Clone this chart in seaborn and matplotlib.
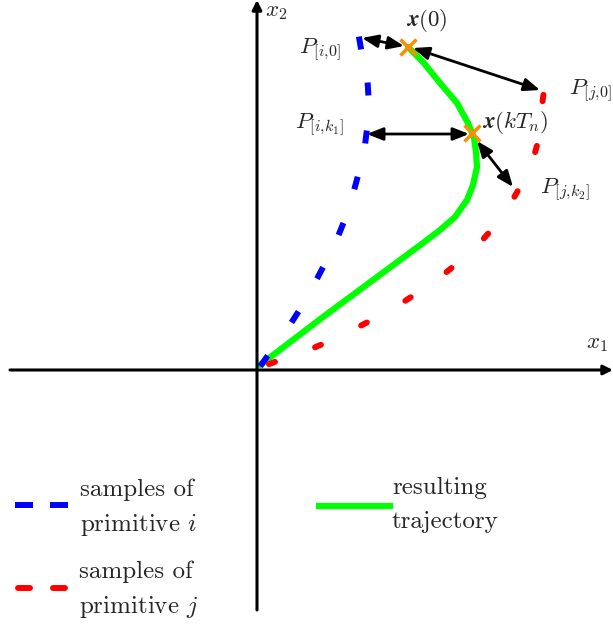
import numpy as np
import pandas as pd
import matplotlib
matplotlib.use("Agg")
import matplotlib.pyplot as plt
import seaborn as sns

# ---- data (diagram coordinates, origin at the axes crossing) ----
traj_x = [3, 66, 116, 166, 183, 198, 210, 216, 220, 219, 217, 211, 200, 183, 166, 151]
traj_y = [5, 53, 90, 127, 140, 153, 170, 185, 203, 218, 232, 247, 267, 287, 308, 323]

blue_x = [7, 38, 63, 84, 99, 109, 111, 103]
blue_y = [9, 53, 97, 141, 187, 233, 281, 327]

red_x = [15, 61, 107, 151, 192, 229, 259, 279, 286]
red_y = [7, 24, 46, 71, 100, 134, 176, 221, 272]

marks_x = [151, 215]
marks_y = [323, 237]

arrows = [((105, 332), (147, 324)),
          ((156, 322), (283, 280)),
          ((110, 236), (212, 236)),
          ((220, 229), (256, 183))]

labels = [(r"$\mathbfit{x}(0)$", 170, 350, "center"),
          (r"$P_{[i{,}0]}$", 84, 320, "right"),
          (r"$P_{[j{,}0]}$", 312, 279, "left"),
          (r"$P_{[i{,}k_1]}$", 87, 245, "right"),
          (r"$\mathbfit{x}(kT_n)$", 225, 247, "left"),
          (r"$P_{[j{,}k_2]}$", 283, 180, "left"),
          (r"$x_1$", 329, 26, "left"),
          (r"$x_2$", 8, 358, "left")]

sns.set_theme(style="white")
plt.rcParams["mathtext.fontset"] = "cm"
plt.rcParams["font.family"] = ["cmr10", "DejaVu Serif"]
plt.rcParams["axes.formatter.use_mathtext"] = True

fig = plt.figure(figsize=(6.13, 6.25), dpi=100)
ax = fig.add_axes([0, 0, 1, 1])
ax.set_xlim(-257, 356)
ax.set_ylim(-255, 370)
ax.axis("off")

BLUE = "#0000ff"
RED = "#ff0000"
GREEN = "#00ff00"
ORANGE = "#ff8c00"

# axes
ax.annotate("", xy=(356, 0), xytext=(-247, 0),
            arrowprops=dict(arrowstyle="-|>", color="black", lw=2.2,
                            mutation_scale=14, shrinkA=0, shrinkB=0))
ax.annotate("", xy=(0, 370), xytext=(0, -240),
            arrowprops=dict(arrowstyle="-|>", color="black", lw=2.2,
                            mutation_scale=14, shrinkA=0, shrinkB=0))

# trajectory
df = pd.DataFrame({"x": traj_x, "y": traj_y})
sns.lineplot(data=df, x="x", y="y", sort=False, estimator=None, color=GREEN,
             lw=4.5, ax=ax, legend=False)


def sample_dashes(xs, ys, half, color, cap):
    xs = np.asarray(xs, float)
    ys = np.asarray(ys, float)
    n = len(xs)
    for k in range(n):
        a = max(k - 1, 0)
        b = min(k + 1, n - 1)
        dx, dy = xs[b] - xs[a], ys[b] - ys[a]
        L = np.hypot(dx, dy)
        dx, dy = dx / L * half, dy / L * half
        ax.plot([xs[k] - dx, xs[k] + dx], [ys[k] - dy, ys[k] + dy],
                color=color, lw=4.3, solid_capstyle=cap)


sample_dashes(blue_x, blue_y, 6.5, BLUE, "butt")
sample_dashes(red_x, red_y, 3.2, RED, "round")

# arrows
for (p0, p1) in arrows:
    ax.annotate("", xy=p1, xytext=p0,
                arrowprops=dict(arrowstyle="<|-|>,head_length=0.8,head_width=0.32",
                                color="black", lw=2.0, shrinkA=0, shrinkB=0))

ax.plot(marks_x, marks_y, ls="none", marker="x", ms=11, mew=2.5, color=ORANGE)

for t, x, y, ha in labels:
    ax.text(x, y, t, ha=ha, va="center", fontsize=16.5)

# legend
ax.plot([-242, -224], [-135, -135], color=BLUE, lw=4.3, solid_capstyle="butt")
ax.plot([-207, -189], [-135, -135], color=BLUE, lw=4.3, solid_capstyle="butt")
ax.plot([-239, -227], [-218, -218], color=RED, lw=4.3, solid_capstyle="round")
ax.plot([-204, -192], [-218, -218], color=RED, lw=4.3, solid_capstyle="round")
ax.plot([59, 136], [-136, -136], color=GREEN, lw=4.5, solid_capstyle="butt")

fs = 18
ax.text(-177, -120, "samples of", ha="left", va="center", fontsize=fs)
ax.text(-177, -155, r"primitive $i$", ha="left", va="center", fontsize=fs)
ax.text(-178, -202, "samples of", ha="left", va="center", fontsize=fs)
ax.text(-178, -237, r"primitive $j$", ha="left", va="center", fontsize=fs)
ax.text(135, -118, "resulting", ha="left", va="center", fontsize=fs)
ax.text(135, -152, "trajectory", ha="left", va="center", fontsize=fs)

fig.savefig("out.png", dpi=100)
